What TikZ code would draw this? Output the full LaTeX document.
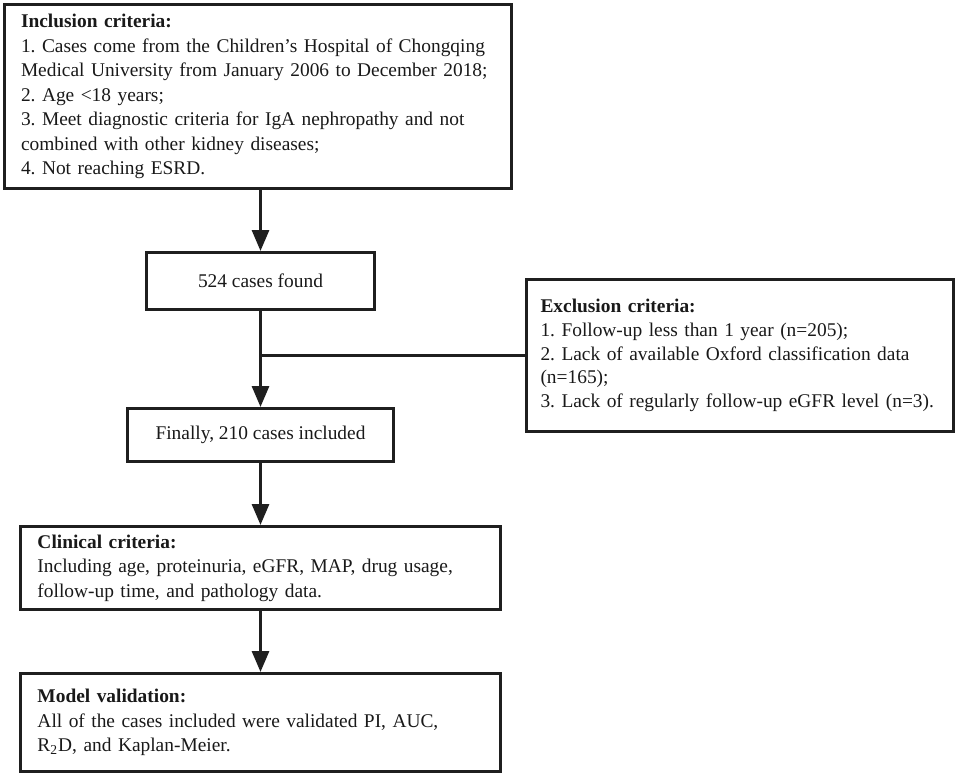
\documentclass[tikz,border=0pt]{standalone}
\usepackage{fontspec}
\setmainfont{Liberation Serif}
\usetikzlibrary{arrows.meta}

\tikzset{
	box/.style={draw=black!88, line width=1.5pt, inner xsep=8.5pt, inner ysep=0pt, text=black!90, font=\fontsize{9.7}{12.25}\selectfont\frenchspacing},
	flow/.style={draw=black!88, line width=1.5pt, -{Triangle[width=8.5pt,length=10.5pt]}},
}

\begin{document}
\begin{tikzpicture}[x=0.5pt, y=-0.5pt]
	\useasboundingbox (0,0) rectangle (959,777);
	\node[box, align=left, text width=236.5pt, minimum height=92pt] (incl) at (257.5,96.5) {\textbf{Inclusion criteria:}\\1. Cases come from the Children’s Hospital of Chongqing\\Medical University from January 2006 to December 2018;\\2. Age <18 years;\\3. Meet diagnostic criteria for IgA nephropathy and not\\combined with other kidney diseases;\\4. Not reaching ESRD.};
	\node[box, minimum width=114pt, minimum height=28.5pt] (found) at (260.5,281) {524 cases found};
	\node[box, align=left, inner xsep=7pt, text width=199.5pt, minimum height=76pt, font=\fontsize{9.7}{11.9}\selectfont\frenchspacing] (excl) at (740,355.5) {\textbf{Exclusion criteria:}\\1. Follow-up less than 1 year (n=205);\\2. Lack of available Oxford classification data\\(n=165);\\3. Lack of regularly follow-up eGFR level (n=3).};
	\node[box, minimum width=133pt, minimum height=26.5pt] (final) at (260.5,435) {Finally, 210 cases included};
	\node[box, align=left, text width=223pt, minimum height=41.5pt] (clin) at (260.5,568) {\textbf{Clinical criteria:}\\Including age, proteinuria, eGFR, MAP, drug usage,\\follow-up time, and pathology data.};
	\node[box, align=left, text width=223pt, minimum height=49pt] (model) at (260.5,722.5) {\textbf{Model validation:}\\All of the cases included were validated PI, AUC,\\R\textsubscript{2}D, and Kaplan-Meier.};
	\draw[flow] (incl.south -| found.north) -- (found.north);
	\draw[flow] (found.south) -- (final.north);
	\draw[draw=black!88, line width=1.5pt] (excl.west) -- (excl.west -| found.south);
	\draw[flow] (final.south) -- (clin.north);
	\draw[flow] (clin.south) -- (model.north);
\end{tikzpicture}
\end{document}
